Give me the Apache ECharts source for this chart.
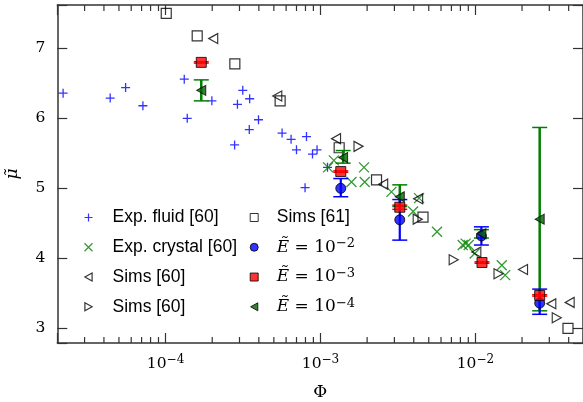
<!DOCTYPE html>
<html><head><meta charset="utf-8">
<script src="https://cdn.jsdelivr.net/npm/echarts@6/dist/echarts.min.js"></script>
<style>html,body{margin:0;padding:0;background:#fff}#c{width:583px;height:402px}</style>
</head><body><div id="c"></div>
<script>
// ---- data (Phi, mu) ----
const expFluid = [[2.18e-5,6.36],[4.39e-5,6.29],[5.52e-5,6.44],[7.14e-5,6.18],[1.32e-4,6.56],[1.38e-4,6.00],[1.99e-4,6.25],[2.79e-4,5.62],[2.91e-4,6.20],[3.15e-4,6.40],[3.49e-4,6.28],[3.47e-4,5.84],[3.98e-4,5.98],[5.65e-4,5.79],[6.46e-4,5.70],[7.00e-4,5.55],[8.12e-4,5.74],[8.88e-4,5.49],[9.50e-4,5.55],[7.95e-4,5.01],[1.11e-3,5.30]];
const expCrystal = [[1.12e-3,5.30],[1.22e-3,5.40],[1.585e-3,5.09],[1.91e-3,5.30],[1.93e-3,5.09],[2.87e-3,4.95],[3.96e-3,4.67],[4.33e-3,4.86],[5.65e-3,4.38],[8.28e-3,4.19],[8.65e-3,4.21],[9.05e-3,4.19],[9.89e-3,4.07],[1.48e-2,3.90],[1.556e-2,3.76]];
const sims60L = [[2.03e-4,7.14],[5.26e-4,6.32],[1.26e-3,5.71],[2.54e-3,5.06],[4.27e-3,4.85],[1.014e-2,4.09],[2.03e-2,3.84],[3.09e-2,3.35],[4.06e-2,3.37]];
const sims60R = [[1.76e-3,5.60],[4.24e-3,4.56],[7.24e-3,3.98],[1.41e-2,3.78],[3.35e-2,3.15]];
const sims61 = [[1.01e-4,7.50],[1.60e-4,7.18],[2.80e-4,6.78],[5.49e-4,6.25],[1.32e-3,5.58],[2.30e-3,5.12],[4.59e-3,4.59],[3.96e-2,3.00]];

const e2Phi = [1.352e-3,3.25e-3,1.093e-2,2.60e-2];
const e2Mu  = [5.00,4.55,4.32,3.36];
const e2Lo  = [4.88,4.26,4.19,3.20];
const e2Hi  = [5.14,4.84,4.45,3.56];

const e3Phi = [1.70e-4,1.352e-3,3.25e-3,1.103e-2,2.60e-2];
const e3Mu  = [6.80,5.24,4.73,3.94,3.47];
const e3Lo  = [6.79,5.23,4.70,3.93,3.46];
const e3Hi  = [6.81,5.25,4.76,3.95,3.48];

const e4Phi = [1.70e-4,1.40e-3,3.25e-3,1.093e-2,2.60e-2];
const e4Mu  = [6.40,5.44,4.88,4.35,4.56];
const e4Lo  = [6.25,5.36,4.74,4.29,3.25];
const e4Hi  = [6.55,5.54,5.05,4.41,5.87];

const minorTicks = [3e-5,4e-5,5e-5,6e-5,7e-5,8e-5,9e-5,2e-4,3e-4,4e-4,5e-4,6e-4,7e-4,8e-4,9e-4,2e-3,3e-3,4e-3,5e-3,6e-3,7e-3,8e-3,9e-3,2e-2,3e-2,4e-2];
const yTickLabels = ['3','4','5','6','7'];
const eExp = {E2:'−2', E3:'−3', E4:'−4'};

// ---- helpers ----
const zip2 = (a,b) => a.map((v,i)=>[v,b[i]]);
const zip3 = (a,b,c) => a.map((v,i)=>[v,b[i],c[i]]);
const AX = '#333';
const serif = 'DejaVu Serif';

function errRender(color, lw) {
  return function(params, api) {
    const x = api.value(0), lo = api.value(1), hi = api.value(2);
    const a = api.coord([x, lo]), b = api.coord([x, hi]);
    const hw = 7.5;
    return {type:'group', children:[
      {type:'line', shape:{x1:a[0],y1:a[1],x2:b[0],y2:b[1]}, style:{stroke:color,lineWidth:lw}},
      {type:'line', shape:{x1:a[0]-hw,y1:a[1],x2:a[0]+hw,y2:a[1]}, style:{stroke:color,lineWidth:1.5}},
      {type:'line', shape:{x1:b[0]-hw,y1:b[1],x2:b[0]+hw,y2:b[1]}, style:{stroke:color,lineWidth:1.5}}
    ]};
  };
}

const SYM = {
  plus: 'path://M0,5L10,5M5,0L5,10',
  cross: 'path://M0,0L10,10M10,0L0,10',
  triL: 'path://M9,0L0,5L9,10Z',
  triR: 'path://M0,0L9,5L0,10Z'
};

const chart = echarts.init(document.getElementById('c'), null, {renderer:'canvas'});
const xMin = 2e-5, xMax = 0.0495, yMin = 2.79, yMax = 7.62;

const xLabelFmt = v => {
  const e = Math.log10(v);
  if (Math.abs(e - Math.round(e)) < 1e-6) return '{b|10}{s|−' + Math.abs(Math.round(e)) + '}';
  return '';
};
const yLabelFmt = v => {
  const r = Math.round(v);
  return (Math.abs(v - r) < 1e-6 && yTickLabels.indexOf(String(r)) >= 0) ? String(r) : '';
};

const option = {
  animation: false,
  backgroundColor: '#fff',
  grid: {left:57.3, right:0, top:5, bottom:59, containLabel:false, outerBoundsMode:'none'},
  xAxis: [
    {type:'log', logBase:10, min:xMin, max:xMax, position:'bottom',
     axisLine:{lineStyle:{color:AX,width:1.5}},
     axisTick:{inside:true,length:10,lineStyle:{color:AX,width:1.2}},
     minorTick:{show:false}, splitLine:{show:false},
     axisLabel:{formatter:xLabelFmt, margin:11, color:'#000',
       rich:{b:{fontFamily:serif,fontSize:15.5,lineHeight:20,color:'#000'},
             s:{fontFamily:serif,fontSize:12,lineHeight:13,verticalAlign:'top',color:'#000'}}},
     name:'Φ', nameLocation:'middle', nameGap:41,
     nameTextStyle:{fontFamily:serif,fontSize:17,color:'#000'}},
    {type:'log', logBase:10, min:xMin, max:xMax, position:'top',
     axisLine:{lineStyle:{color:AX,width:1.5}},
     axisTick:{inside:true,length:10,lineStyle:{color:AX,width:1.2}},
     axisLabel:{show:false}, splitLine:{show:false}, minorTick:{show:false}}
  ],
  yAxis: [
    {type:'value', min:yMin, max:yMax, position:'left',
     axisLine:{lineStyle:{color:AX,width:1.5}},
     axisTick:{inside:true,length:10,lineStyle:{color:AX,width:1.2}},
     splitLine:{show:false},
     axisLabel:{formatter:yLabelFmt, margin:12, color:'#000', fontFamily:serif, fontSize:15.5},
     name:'μ\u0303', nameLocation:'middle', nameGap:36, nameRotate:90,
     nameTextStyle:{fontFamily:serif,fontSize:17,fontStyle:'italic',color:'#000'}},
    {type:'value', min:yMin, max:yMax, position:'right',
     axisLine:{lineStyle:{color:AX,width:1.5}},
     axisTick:{inside:true,length:10,lineStyle:{color:AX,width:1.2}},
     splitLine:{show:false}, axisLabel:{show:false}}
  ],
  legend: [
    {orient:'vertical', left:82, top:207.5, padding:0, itemWidth:8, itemHeight:8, itemGap:9.77,
     selectedMode:false, itemStyle:{borderWidth:1.2},
     data:['Exp. fluid [60]','Exp. crystal [60]','Sims [60]','Sims [60] '],
     textStyle:{fontFamily:'Liberation Sans',fontSize:17.5,color:'#000',lineHeight:20,padding:[0,0,0,15]}},
    {orient:'vertical', left:247.7, top:207.5, padding:0, itemWidth:8, itemHeight:8, itemGap:9.77,
     selectedMode:false, itemStyle:{borderWidth:1},
     data:['Sims [61]','E2','E3','E4'],
     formatter: n => eExp[n] ? '{i|Ẽ}{m| = 10}{s|' + eExp[n] + '}' : n,
     textStyle:{fontFamily:'Liberation Sans',fontSize:17.5,color:'#000',lineHeight:20,padding:[0,0,0,13.6],
       rich:{i:{fontFamily:serif,fontStyle:'italic',fontSize:17,lineHeight:20,color:'#000'},
             m:{fontFamily:serif,fontSize:17,lineHeight:20,color:'#000'},
             s:{fontFamily:serif,fontSize:13,lineHeight:13,verticalAlign:'top',color:'#000'}}}}
  ],
  series: [
    {type:'custom', name:'minorTicks', silent:true, z:1, data:minorTicks.map(v=>[v,yMin]),
     renderItem:(params, api) => {
       const p = api.coord([api.value(0), yMin]);
       const cs = params.coordSys;
       return {type:'group', children:[
         {type:'line', shape:{x1:p[0],y1:cs.y+cs.height,x2:p[0],y2:cs.y+cs.height-6}, style:{stroke:AX,lineWidth:1.2}},
         {type:'line', shape:{x1:p[0],y1:cs.y,x2:p[0],y2:cs.y+6}, style:{stroke:AX,lineWidth:1.2}}
       ]};
     }},
    {type:'scatter', name:'Exp. fluid [60]', data:expFluid, symbol:SYM.plus, symbolSize:9, z:2, silent:true,
     itemStyle:{color:'none', borderColor:'#0000ff', borderWidth:1.3}},
    {type:'scatter', name:'Exp. crystal [60]', data:expCrystal, symbol:SYM.cross, symbolSize:10, z:2, silent:true,
     itemStyle:{color:'none', borderColor:'#008000', borderWidth:1.3}},
    {type:'scatter', name:'Sims [60]', data:sims60L, symbol:SYM.triL, symbolSize:[9,10], z:2, silent:true,
     itemStyle:{color:'none', borderColor:'#000', borderWidth:1.2}},
    {type:'scatter', name:'Sims [60] ', data:sims60R, symbol:SYM.triR, symbolSize:[9,10], z:2, silent:true,
     itemStyle:{color:'none', borderColor:'#000', borderWidth:1.2}},
    {type:'scatter', name:'Sims [61]', data:sims61, symbol:'rect', symbolSize:10, z:2, silent:true,
     itemStyle:{color:'none', borderColor:'#000', borderWidth:1.2}},
    {type:'custom', name:'errE4', silent:true, z:3, data:zip3(e4Phi,e4Lo,e4Hi), encode:{x:0,y:[1,2]}, renderItem:errRender('#008000',2.5)},
    {type:'custom', name:'errE2', silent:true, z:3, data:zip3(e2Phi,e2Lo,e2Hi), encode:{x:0,y:[1,2]}, renderItem:errRender('#0000ff',2.2)},
    {type:'custom', name:'errE3', silent:true, z:3, data:zip3(e3Phi,e3Lo,e3Hi), encode:{x:0,y:[1,2]}, renderItem:errRender('#ff0000',2.2)},
    {type:'scatter', name:'E2', data:zip2(e2Phi,e2Mu), symbol:'circle', symbolSize:10, z:4, silent:true,
     itemStyle:{color:'#0000ff', borderColor:'#000', borderWidth:1}},
    {type:'scatter', name:'E3', data:zip2(e3Phi,e3Mu), symbol:'rect', symbolSize:10, z:4, silent:true,
     itemStyle:{color:'#ff0000', borderColor:'#000', borderWidth:1}},
    {type:'scatter', name:'E4', data:zip2(e4Phi,e4Mu), symbol:SYM.triL, symbolSize:[9,10], z:4, silent:true,
     itemStyle:{color:'#006400', borderColor:'#000', borderWidth:1}}
  ]
};
chart.setOption(option);
</script></body></html>
